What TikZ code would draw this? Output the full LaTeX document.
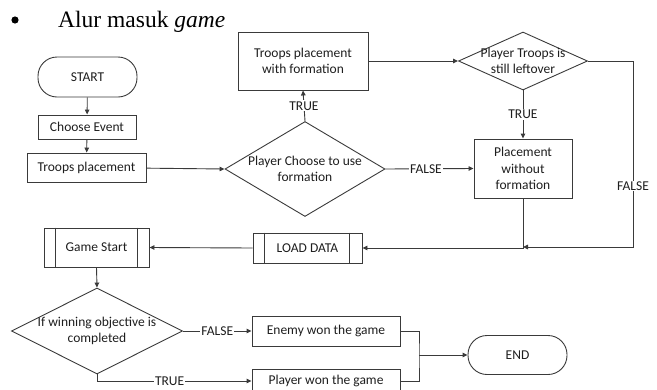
\documentclass[tikz,border=0pt]{standalone}
\usepackage{fontspec}
\setmainfont{Liberation Serif}
\newfontfamily\flowfont{Carlito}
\usetikzlibrary{shapes.geometric,arrows.meta,positioning}
\definecolor{ln}{HTML}{3A3A3A}
\definecolor{tx}{HTML}{1E1E1E}
\tikzset{
  every node/.style={font=\flowfont\fontsize{13.5}{16.5}\selectfont, text=tx, inner sep=0pt},
  boxnode/.style={draw=ln, line width=0.9pt, rectangle, align=center},
  termnode/.style={draw=ln, line width=0.9pt, rectangle, rounded corners=19pt, align=center},
  decnode/.style={draw=ln, line width=0.9pt, diamond, align=center},
  conn/.style={draw=ln, line width=0.9pt},
  arr/.style={conn, -{Triangle[length=5pt,width=4.5pt]}},
  lbl/.style={fill=white, inner sep=1pt}
}
\begin{document}
\begin{tikzpicture}[x=1pt,y=-1pt]
\useasboundingbox (0,0) rectangle (657,389);
% title
\fill[black] (15,20) circle (3.6);
\node[anchor=base west, font=\fontsize{23.5}{26}\selectfont, text=black] (title) at (58,27) {Alur masuk \textit{game}};
% nodes
\node[termnode, minimum width=99pt, minimum height=40pt] (start) at (87.5,77) {START};
\node[boxnode, minimum width=98pt, minimum height=24pt] (choose) at (87,127) {Choose Event};
\node[boxnode, minimum width=119pt, minimum height=29pt] (troops) at (86.5,167.5) {Troops placement};
\node[decnode, minimum width=160pt, minimum height=95pt] (d1) at (305,169) {};
\node[align=center] (d1t) at (305,169) {Player Choose to use\\formation};
\node[boxnode, minimum width=130pt, minimum height=58pt] (box1) at (303,61) {Troops placement\\with formation};
\node[decnode, minimum width=129pt, minimum height=58pt] (d2) at (523,61) {};
\node[align=center] (d2t) at (523,61) {Player Troops is\\still leftover};
\node[boxnode, minimum width=98pt, minimum height=59pt] (box2) at (523,168.5) {Placement\\without\\formation};
\node[boxnode, minimum width=109pt, minimum height=30pt] (load) at (307.5,248) {LOAD DATA};
\draw[conn] ([xshift=12pt]load.north west) -- ([xshift=12pt]load.south west);
\draw[conn] ([xshift=-13pt]load.north east) -- ([xshift=-13pt]load.south east);
\node[boxnode, minimum width=105pt, minimum height=39pt] (gstart) at (96.5,247.5) {Game Start};
\draw[conn] ([xshift=12pt]gstart.north west) -- ([xshift=12pt]gstart.south west);
\draw[conn] ([xshift=-12pt]gstart.north east) -- ([xshift=-12pt]gstart.south east);
\node[decnode, minimum width=171pt, minimum height=86pt] (d3) at (97,331) {};
\node[align=center] (d3t) at (97,331) {If winning objective is\\completed};
\node[boxnode, minimum width=148pt, minimum height=30pt] (enemy) at (326,331) {Enemy won the game};
\node[boxnode, minimum width=148pt, minimum height=24pt] (player) at (326,381) {Player won the game};
\node[termnode, minimum width=99pt, minimum height=39pt] (end) at (517.5,355) {END};
% helper coordinates
\coordinate (fr) at (633,247);
\coordinate (jn) at (523,247);
\coordinate (mg) at (419,355);
% connectors
\draw[arr] (start) -- (choose);
\draw[arr] (choose) -- (troops);
\draw[arr] (troops) -- (d1.west);
\draw[arr] (d1.north) -- node[lbl] {TRUE} (box1.south);
\draw[arr] (box1.east) -- (d2.west);
\draw[arr] (d2.south) -- node[lbl] {TRUE} (box2.north);
\draw[arr] (d1.east) -- node[lbl, pos=0.46] {FALSE} (box2.west);
\draw[arr] (d2.east) -| node[lbl, pos=0.836] {FALSE} (fr) -- (jn);
\draw[arr] (box2.south) |- (load.east);
\draw[arr] (load.west) -- (gstart.east);
\draw[arr] (gstart.south) -- (d3.north);
\draw[arr] (d3.east) -- node[lbl] {FALSE} (enemy.west);
\draw[arr] (d3.south) |- node[lbl, pos=0.735] {TRUE} (player.west);
\draw[conn] (enemy.east) -| (mg) |- (player.east);
\draw[arr] (mg) -- (end.west);
\end{tikzpicture}
\end{document}
